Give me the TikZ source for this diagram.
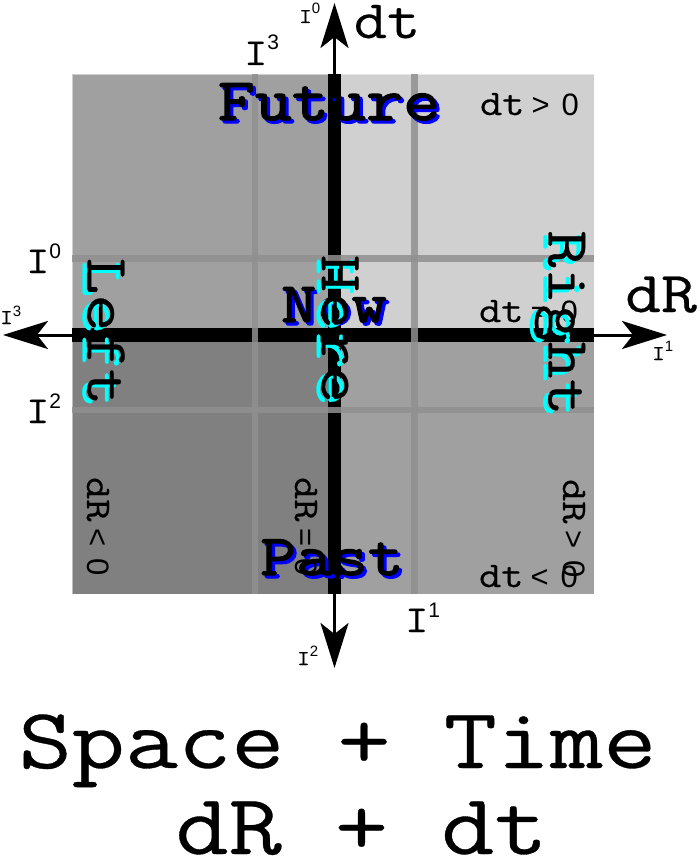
\documentclass[tikz,border=0pt]{standalone}
\usepackage{fontspec}
\usetikzlibrary{arrows.meta}
\newfontfamily\mono[FakeStretch=1.2,FakeBold=0.4]{Latin Modern Mono}
\newfontfamily\monob[FakeStretch=1.2,FakeBold=2.2]{Latin Modern Mono}
\newfontfamily\lsans{Liberation Sans}
\definecolor{qtl}{HTML}{A0A0A0}
\definecolor{qtr}{HTML}{D0D0D0}
\definecolor{qbl}{HTML}{808080}
\definecolor{qbr}{HTML}{A0A0A0}
\definecolor{gridgray}{HTML}{909090}
\definecolor{shblue}{RGB}{0,0,255}
\definecolor{shcyan}{RGB}{0,255,255}
\newcommand\fsz[1]{\fontsize{#1}{#1}}
% I label: #1 I size, #2 digit size, #3 raise, #4 digit
\newcommand\Ilab[4]{{\fsz{#1}\mono I}\raisebox{#3pt}{\fsz{#2}\lsans #4}}
% comparison label: #1 variable letter, #2 relation
\newcommand\cmp[2]{{\fsz{36}\mono d#1}\kern7pt{\fsz{31}\lsans #2}\kern12pt{\fsz{31}\lsans 0}}
\tikzset{
  gridline/.style={gridgray, opacity=0.85, line width=6.6pt},
  axarrow/.style={line width=3pt, -{Stealth[length=45pt,width=28pt,inset=11pt]}},
  word/.style={inner sep=0pt, font=\fsz{60}\mono},
}
\begin{document}
\begin{tikzpicture}[x=1pt,y=-1pt, every node/.style={inner sep=0pt, outer sep=0pt}]
\useasboundingbox (0,0) rectangle (699,859);
% quadrants
\fill[qtl] (72,74) rectangle (334.5,335);
\fill[qtr] (334.5,74) rectangle (594,335);
\fill[qbl] (72,335) rectangle (334.5,594);
\fill[qbr] (334.5,335) rectangle (594,594);
\draw[white, opacity=0.5, line width=1pt] (72,74) rectangle (594,594);
% black axes bars
\draw[line width=13pt] (334.5,74) -- (334.5,594);
\draw[line width=14pt] (72,335) -- (594,335);
% grid lines
\draw[gridline] (255,74) -- (255,594);
\draw[gridline] (414.3,74) -- (414.3,594);
\draw[gridline] (72,258.3) -- (594,258.3);
\draw[gridline] (72,410) -- (594,410);
% arrows
\coordinate (aUs) at (334.5,74);
\coordinate (aUe) at (334.5,3);
\coordinate (aDs) at (334.5,594);
\coordinate (aDe) at (334.5,668);
\coordinate (aLs) at (72,335);
\coordinate (aLe) at (3,335);
\coordinate (aRs) at (594,335);
\coordinate (aRe) at (667,335);
\draw[axarrow] (aUs) -- (aUe);
\draw[axarrow] (aDs) -- (aDe);
\draw[axarrow] (aLs) -- (aLe);
\draw[axarrow] (aRs) -- (aRe);
% axis names
\node[font=\fsz{54}\mono, anchor=base] (dtlab) at (387,38) {dt};
\node[font=\fsz{58}\mono, anchor=base] (dRlab) at (661,312) {dR};
% I labels
\node[anchor=base west] (i0top) at (299,23) {\Ilab{21}{15}{9}{0}};
\node[anchor=base west] (i3top) at (244,65) {\Ilab{38}{21}{15}{3}};
\node[anchor=base west] (i0left) at (26,273) {\Ilab{38}{21}{15}{0}};
\node[anchor=base west] (i3left) at (0,324) {\Ilab{21}{15}{8}{3}};
\node[anchor=base west] (i2left) at (26,423) {\Ilab{38}{21}{15}{2}};
\node[anchor=base west] (i1right) at (652,360) {\Ilab{21}{15}{9}{1}};
\node[anchor=base west] (i1bot) at (405,632) {\Ilab{38}{21}{15}{1}};
\node[anchor=base west] (i2bot) at (297,665) {\Ilab{21}{15}{9}{2}};
% small comparison labels
\node[anchor=base west] (gtt) at (480,115) {\cmp{t}{>}};
\node[anchor=base west] (eqt) at (479,322) {\cmp{t}{=}};
\node[anchor=base west] (ltt) at (479,587) {\cmp{t}{<}};
\node[rotate=-90, anchor=base west] (ltR) at (87,477) {\cmp{R}{<}};
% big words
\node[font=\fsz{60}\monob, text=shblue, anchor=base] (futureS) at (332,123) {Future};
\node[font=\fsz{60}\monob, anchor=base] (future) at (329,120) {Future};
\node[font=\fsz{57}\monob, text=shblue, anchor=base] (nowS) at (337,325) {Now};
\node[font=\fsz{57}\monob, anchor=base] (now) at (334,322) {Now};
\node[font=\fsz{58}\monob, text=shblue, anchor=base] (pastS) at (335,578) {Past};
\node[font=\fsz{58}\monob, anchor=base] (past) at (332,575) {Past};
\node[rotate=-90, anchor=base west] (eqR) at (295,477) {\cmp{R}{=}};
\node[word, text=shcyan, rotate=-90] (leftS) at (101,334.5) {Left};
\node[word, rotate=-90] (left) at (106,331.5) {Left};
\node[word, text=shcyan, rotate=-90] (hereS) at (335,332) {Here};
\node[word, rotate=-90] (here) at (340,329) {Here};
\node[word, text=shcyan, rotate=-90] (rightS) at (555,326) {Right};
\node[word, rotate=-90] (right) at (560,323) {Right};
\node[rotate=-90, anchor=base west] (gtR) at (563,479) {\cmp{R}{>}};
% title
\node[font=\fsz{86}\mono, anchor=base] (title1) at (337.5,768) {Space + Time};
\node[font=\fsz{86}\mono, anchor=base] (title2) at (361.5,854) {dR + dt};
\end{tikzpicture}
\end{document}
